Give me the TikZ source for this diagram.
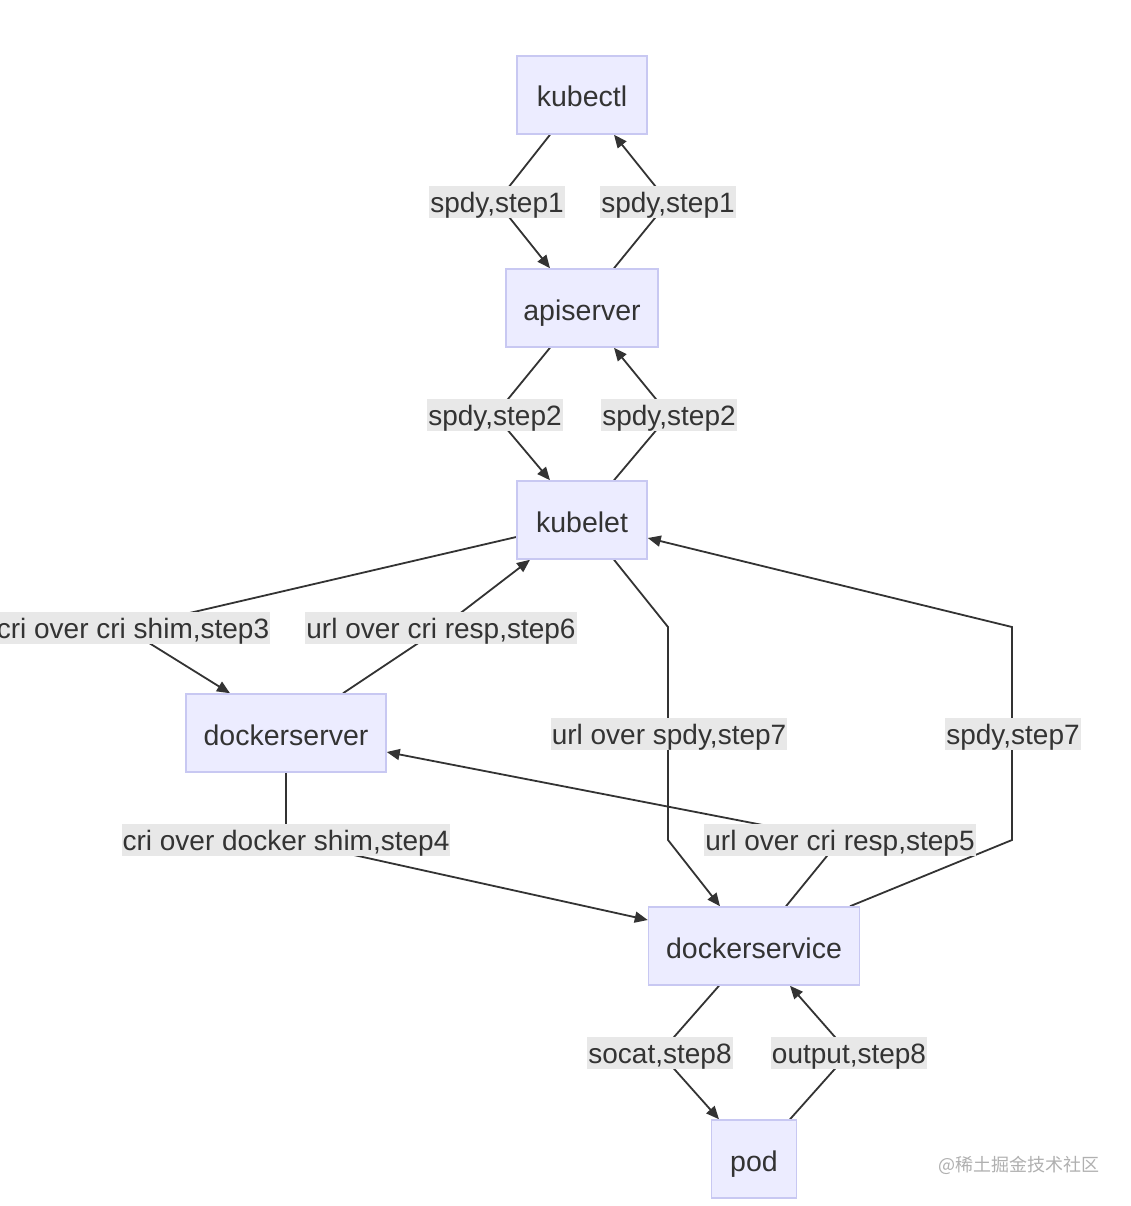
\documentclass[tikz,border=0pt]{standalone}
\usepackage{fontspec}
\setmainfont{Liberation Sans}
\newfontfamily\cjk{Noto Sans CJK SC}
\usetikzlibrary{arrows.meta}
\pgfdeclarelayer{background}
\pgfdeclarelayer{edges}
\pgfsetlayers{background,edges,main}
\definecolor{nodefill}{HTML}{ECECFF}
\definecolor{nodeline}{HTML}{C8C8F2}
\definecolor{ink}{HTML}{333333}
\definecolor{lblbg}{HTML}{E8E8E8}
\definecolor{wmgray}{HTML}{B0B0B0}
\begin{document}
\begin{tikzpicture}[x=1pt,y=-1pt,
  box/.style={draw=nodeline,fill=nodefill,line width=1.5pt,minimum height=78pt,inner sep=0pt,text height=24pt,text depth=0pt,font=\fontsize{28.5}{31}\selectfont,text=ink},
  lbl/.style={fill=lblbg,inner xsep=1pt,inner ysep=3pt,text height=23.5pt,text depth=3pt,font=\fontsize{28}{30}\selectfont,text=ink},
  conn/.style={draw=ink,line width=1.8pt,line join=miter},
  arr/.style={conn,-{Triangle[length=13pt,width=11pt]}}]
\useasboundingbox (0,0) rectangle (1130,1206);
\begin{pgfonlayer}{background}
\fill[white] (0,0) rectangle (1130,1206);
\end{pgfonlayer}
% main nodes
\node[box,minimum width=130pt] (kubectl) at (582,95) {kubectl};
\node[box,minimum width=152pt] (apiserver) at (582,308) {apiserver};
\node[box,minimum width=130pt] (kubelet) at (582,520) {kubelet};
\node[box,minimum width=200pt] (dockerserver) at (286,733) {dockerserver};
\node[box,minimum width=211pt] (dockerservice) at (754,946) {dockerservice};
\node[box,minimum width=85pt] (pod) at (754,1159) {pod};
% labels
\node[lbl] (l1) at (497,202) {spdy,step1};
\node[lbl] (l2) at (668,202) {spdy,step1};
\node[lbl] (l3) at (495,415) {spdy,step2};
\node[lbl] (l4) at (669,415) {spdy,step2};
\node[lbl] (l5) at (133,628) {cri over cri shim,step3};
\node[lbl] (l6) at (441,628) {url over cri resp,step6};
\node[lbl] (l7) at (669,734) {url over spdy,step7};
\node[lbl] (l8) at (1013,734) {spdy,step7};
\node[lbl] (l9) at (286,840) {cri over docker shim,step4};
\node[lbl] (l10) at (840,840) {url over cri resp,step5};
\node[lbl] (l11) at (660,1053) {socat,step8};
\node[lbl] (l12) at (849,1053) {output,step8};
% bend points
\coordinate (b7a) at (668,627);
\coordinate (b7b) at (668,840);
\coordinate (b8a) at (1012,840);
\coordinate (b8b) at (1012,627);
\coordinate (b5) at (125,628);
% watermark
\node[text=wmgray,font=\cjk\fontsize{18}{20}\selectfont,anchor=east,inner sep=0pt] (wm) at (1100,1165) {@稀土掘金技术社区};
\begin{pgfonlayer}{edges}
\draw[arr] ([xshift=-32pt]kubectl.south) -- (l1.center) -- ([xshift=-32pt]apiserver.north);
\draw[arr] ([xshift=32pt]apiserver.north) -- (l2.center) -- ([xshift=32pt]kubectl.south);
\draw[arr] ([xshift=-32pt]apiserver.south) -- (l3.center) -- ([xshift=-32pt]kubelet.north);
\draw[arr] ([xshift=32pt]kubelet.north) -- (l4.center) -- ([xshift=32pt]apiserver.south);
\draw[arr] ([yshift=-17pt]kubelet.west) -- (b5) -- ([xshift=-56pt]dockerserver.north);
\draw[arr] ([xshift=57pt]dockerserver.north) -- (l6.center) -- ([xshift=-52pt]kubelet.south);
\draw[arr] ([xshift=32pt]kubelet.south) -- (b7a) -- (b7b) -- ([xshift=-34pt]dockerservice.north);
\draw[arr] ([xshift=96pt]dockerservice.north) -- (b8a) -- (b8b) -- ([yshift=-18pt]kubelet.east);
\draw[arr] (dockerserver.south) -- (l9.center) -- ([yshift=26pt]dockerservice.west);
\draw[arr] ([xshift=32pt]dockerservice.north) -- (l10.center) -- ([yshift=-19pt]dockerserver.east);
\draw[arr] ([xshift=-35pt]dockerservice.south) -- (l11.center) -- ([xshift=-35pt]pod.north);
\draw[arr] ([xshift=36pt]pod.north) -- (l12.center) -- ([xshift=36pt]dockerservice.south);
\end{pgfonlayer}
\end{tikzpicture}
\end{document}
